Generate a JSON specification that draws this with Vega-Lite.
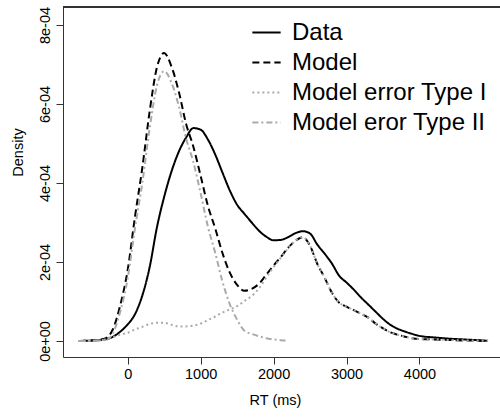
{
  "$schema": "https://vega.github.io/schema/vega-lite/v6.json",
  "autosize": {"type": "none"},
  "width": 437,
  "height": 350,
  "padding": {"left": 63, "top": 7, "right": 0, "bottom": 60},
  "background": "white",
  "config": {
    "view": {"stroke": null},
    "font": "Liberation Sans",
    "axis": {"grid": false, "domainColor": "#333", "tickColor": "#333", "tickSize": 7, "labelColor": "black", "titleColor": "black", "labelFont": "Liberation Sans", "titleFont": "Liberation Sans", "labelFontSize": 14.5, "titleFontSize": 14.5, "titleFontWeight": "normal"},
    "legend": {"labelFont": "Liberation Sans", "labelFontSize": 24, "labelColor": "black", "labelLimit": 0}
  },
  "data": {"values": [
    {"s":"Data","x":-670,"y":0},{"s":"Data","x":-500,"y":0.000001},{"s":"Data","x":-400,"y":0.000002},{"s":"Data","x":-300,"y":0.0000045},{"s":"Data","x":-200,"y":0.000011},{"s":"Data","x":-100,"y":0.000024},{"s":"Data","x":0,"y":0.000042},{"s":"Data","x":100,"y":0.000068},{"s":"Data","x":200,"y":0.000115},{"s":"Data","x":300,"y":0.000186},{"s":"Data","x":400,"y":0.000287},{"s":"Data","x":500,"y":0.000365},{"s":"Data","x":600,"y":0.000429},{"s":"Data","x":700,"y":0.000479},{"s":"Data","x":800,"y":0.000515},{"s":"Data","x":900,"y":0.000539},{"s":"Data","x":1000,"y":0.000535},{"s":"Data","x":1100,"y":0.00051},{"s":"Data","x":1200,"y":0.000472},{"s":"Data","x":1300,"y":0.000426},{"s":"Data","x":1400,"y":0.000381},{"s":"Data","x":1500,"y":0.000345},{"s":"Data","x":1600,"y":0.000322},{"s":"Data","x":1700,"y":0.0003},{"s":"Data","x":1800,"y":0.000279},{"s":"Data","x":1900,"y":0.000264},{"s":"Data","x":2000,"y":0.000255},{"s":"Data","x":2100,"y":0.000256},{"s":"Data","x":2200,"y":0.000263},{"s":"Data","x":2300,"y":0.000273},{"s":"Data","x":2400,"y":0.000278},{"s":"Data","x":2500,"y":0.000272},{"s":"Data","x":2600,"y":0.000244},{"s":"Data","x":2700,"y":0.000221},{"s":"Data","x":2800,"y":0.000196},{"s":"Data","x":2900,"y":0.000165},{"s":"Data","x":3000,"y":0.000148},{"s":"Data","x":3100,"y":0.00013},{"s":"Data","x":3200,"y":0.00011},{"s":"Data","x":3300,"y":0.000092},{"s":"Data","x":3400,"y":0.000074},{"s":"Data","x":3500,"y":0.000056},{"s":"Data","x":3600,"y":0.000041},{"s":"Data","x":3700,"y":0.000031},{"s":"Data","x":3800,"y":0.000024},{"s":"Data","x":3900,"y":0.000018},{"s":"Data","x":4000,"y":0.000013},{"s":"Data","x":4200,"y":0.000009},{"s":"Data","x":4400,"y":0.000006},{"s":"Data","x":4600,"y":0.000004},{"s":"Data","x":4800,"y":0.000002},{"s":"Data","x":4940,"y":0.0000005},
    {"s":"Model","x":-670,"y":0},{"s":"Model","x":-500,"y":0.000001},{"s":"Model","x":-400,"y":0.000003},{"s":"Model","x":-300,"y":0.000007},{"s":"Model","x":-200,"y":0.000031},{"s":"Model","x":-100,"y":0.000092},{"s":"Model","x":0,"y":0.00018},{"s":"Model","x":100,"y":0.000315},{"s":"Model","x":200,"y":0.000438},{"s":"Model","x":300,"y":0.00058},{"s":"Model","x":400,"y":0.000692},{"s":"Model","x":500,"y":0.000729},{"s":"Model","x":600,"y":0.000695},{"s":"Model","x":700,"y":0.000632},{"s":"Model","x":800,"y":0.00055},{"s":"Model","x":900,"y":0.000492},{"s":"Model","x":1000,"y":0.000418},{"s":"Model","x":1100,"y":0.000342},{"s":"Model","x":1200,"y":0.000285},{"s":"Model","x":1300,"y":0.000222},{"s":"Model","x":1400,"y":0.000173},{"s":"Model","x":1500,"y":0.000142},{"s":"Model","x":1600,"y":0.000127},{"s":"Model","x":1700,"y":0.000132},{"s":"Model","x":1800,"y":0.000145},{"s":"Model","x":1900,"y":0.000168},{"s":"Model","x":2000,"y":0.000191},{"s":"Model","x":2100,"y":0.000213},{"s":"Model","x":2200,"y":0.000236},{"s":"Model","x":2300,"y":0.000254},{"s":"Model","x":2400,"y":0.000263},{"s":"Model","x":2500,"y":0.000241},{"s":"Model","x":2600,"y":0.000195},{"s":"Model","x":2700,"y":0.00016},{"s":"Model","x":2800,"y":0.000122},{"s":"Model","x":2900,"y":0.000097},{"s":"Model","x":3000,"y":0.000087},{"s":"Model","x":3100,"y":0.000078},{"s":"Model","x":3200,"y":0.000069},{"s":"Model","x":3300,"y":0.000059},{"s":"Model","x":3400,"y":0.000044},{"s":"Model","x":3500,"y":0.000032},{"s":"Model","x":3600,"y":0.000022},{"s":"Model","x":3700,"y":0.000016},{"s":"Model","x":3800,"y":0.000011},{"s":"Model","x":3900,"y":0.000007},{"s":"Model","x":4000,"y":0.000005},{"s":"Model","x":4200,"y":0.000004},{"s":"Model","x":4400,"y":0.0000025},{"s":"Model","x":4600,"y":0.0000015},{"s":"Model","x":4800,"y":0.0000008},{"s":"Model","x":4940,"y":0},
    {"s":"Model error Type I","x":-670,"y":0},{"s":"Model error Type I","x":-500,"y":0.0000005},{"s":"Model error Type I","x":-400,"y":0.000001},{"s":"Model error Type I","x":-300,"y":0.0000045},{"s":"Model error Type I","x":-200,"y":0.00001},{"s":"Model error Type I","x":-100,"y":0.000016},{"s":"Model error Type I","x":0,"y":0.000021},{"s":"Model error Type I","x":100,"y":0.000029},{"s":"Model error Type I","x":200,"y":0.000036},{"s":"Model error Type I","x":300,"y":0.000043},{"s":"Model error Type I","x":400,"y":0.000046},{"s":"Model error Type I","x":500,"y":0.000046},{"s":"Model error Type I","x":600,"y":0.000041},{"s":"Model error Type I","x":700,"y":0.000037},{"s":"Model error Type I","x":800,"y":0.000037},{"s":"Model error Type I","x":900,"y":0.000039},{"s":"Model error Type I","x":1000,"y":0.000044},{"s":"Model error Type I","x":1100,"y":0.000053},{"s":"Model error Type I","x":1200,"y":0.000062},{"s":"Model error Type I","x":1300,"y":0.000072},{"s":"Model error Type I","x":1400,"y":0.00008},{"s":"Model error Type I","x":1500,"y":0.000088},{"s":"Model error Type I","x":1600,"y":0.000101},{"s":"Model error Type I","x":1700,"y":0.000114},{"s":"Model error Type I","x":1800,"y":0.000133},{"s":"Model error Type I","x":1900,"y":0.000161},{"s":"Model error Type I","x":2000,"y":0.000187},{"s":"Model error Type I","x":2100,"y":0.000211},{"s":"Model error Type I","x":2200,"y":0.000235},{"s":"Model error Type I","x":2300,"y":0.000254},{"s":"Model error Type I","x":2400,"y":0.000263},{"s":"Model error Type I","x":2500,"y":0.000241},{"s":"Model error Type I","x":2600,"y":0.000195},{"s":"Model error Type I","x":2700,"y":0.00016},{"s":"Model error Type I","x":2800,"y":0.000122},{"s":"Model error Type I","x":2900,"y":0.000097},{"s":"Model error Type I","x":3000,"y":0.000087},{"s":"Model error Type I","x":3100,"y":0.000078},{"s":"Model error Type I","x":3200,"y":0.000069},{"s":"Model error Type I","x":3300,"y":0.000059},{"s":"Model error Type I","x":3400,"y":0.000044},{"s":"Model error Type I","x":3500,"y":0.000032},{"s":"Model error Type I","x":3600,"y":0.000022},{"s":"Model error Type I","x":3700,"y":0.000016},{"s":"Model error Type I","x":3800,"y":0.000011},{"s":"Model error Type I","x":3900,"y":0.000007},{"s":"Model error Type I","x":4000,"y":0.000005},{"s":"Model error Type I","x":4200,"y":0.000004},{"s":"Model error Type I","x":4400,"y":0.0000025},{"s":"Model error Type I","x":4600,"y":0.0000015},{"s":"Model error Type I","x":4800,"y":0.0000008},{"s":"Model error Type I","x":4940,"y":0},
    {"s":"Model eror Type II","x":-670,"y":0},{"s":"Model eror Type II","x":-500,"y":0.0000005},{"s":"Model eror Type II","x":-400,"y":0.000002},{"s":"Model eror Type II","x":-300,"y":0.0000025},{"s":"Model eror Type II","x":-200,"y":0.000021},{"s":"Model eror Type II","x":-100,"y":0.000076},{"s":"Model eror Type II","x":0,"y":0.000159},{"s":"Model eror Type II","x":100,"y":0.000286},{"s":"Model eror Type II","x":200,"y":0.0004},{"s":"Model eror Type II","x":300,"y":0.000537},{"s":"Model eror Type II","x":400,"y":0.000646},{"s":"Model eror Type II","x":500,"y":0.000683},{"s":"Model eror Type II","x":600,"y":0.000654},{"s":"Model eror Type II","x":700,"y":0.000595},{"s":"Model eror Type II","x":800,"y":0.000513},{"s":"Model eror Type II","x":900,"y":0.000453},{"s":"Model eror Type II","x":1000,"y":0.000374},{"s":"Model eror Type II","x":1100,"y":0.000289},{"s":"Model eror Type II","x":1200,"y":0.000223},{"s":"Model eror Type II","x":1300,"y":0.00015},{"s":"Model eror Type II","x":1400,"y":0.000093},{"s":"Model eror Type II","x":1500,"y":0.000054},{"s":"Model eror Type II","x":1600,"y":0.000026},{"s":"Model eror Type II","x":1700,"y":0.000018},{"s":"Model eror Type II","x":1800,"y":0.000012},{"s":"Model eror Type II","x":1900,"y":0.000007},{"s":"Model eror Type II","x":2000,"y":0.000004},{"s":"Model eror Type II","x":2100,"y":0.000002},{"s":"Model eror Type II","x":2200,"y":0.000001}
  ]},
  "layer": [
    {
      "mark": {"type": "line", "strokeWidth": 2, "interpolate": "monotone"},
      "encoding": {
        "x": {"field": "x", "type": "quantitative", "scale": {"domain": [-887, 5104], "nice": false, "zero": false},
          "axis": {"values": [0, 1000, 2000, 3000, 4000], "format": "d", "title": "RT (ms)", "labelPadding": 3, "titleX": 212, "titleY": 43, "titleBaseline": "middle", "titleAnchor": null}},
        "y": {"field": "y", "type": "quantitative", "scale": {"domain": [-0.0000405, 0.0008456], "nice": false, "zero": false},
          "axis": {"values": [0, 0.0002, 0.0004, 0.0006, 0.0008], "title": "Density", "labelAngle": -90, "labelAlign": "center", "labelBaseline": "alphabetic", "labelPadding": 7,
            "labelExpr": "datum.value == 0 ? '0e+00' : format(datum.value * 10000, '.0f') + 'e-04'",
            "titleX": -45, "titleY": 145, "titleBaseline": "middle", "titleAlign": "center", "titleAngle": -90}},
        "color": {"field": "s", "type": "nominal", "scale": {"domain": ["Data", "Model", "Model error Type I", "Model eror Type II"], "range": ["#000000", "#000000", "#aaaaaa", "#aaaaaa"]},
          "legend": {"title": null, "orient": "none", "legendX": 188, "legendY": 10, "symbolType": "stroke", "symbolSize": 800, "symbolStrokeWidth": 2, "labelOffset": 10, "rowPadding": 2, "labelLimit": 0}},
        "strokeDash": {"field": "s", "type": "nominal", "scale": {"domain": ["Data", "Model", "Model error Type I", "Model eror Type II"], "range": [[1, 0], [7, 4], [2, 3], [6, 3, 2, 3]]},
          "legend": {"title": null, "orient": "none", "legendX": 188, "legendY": 10, "symbolType": "stroke", "symbolSize": 800, "symbolStrokeWidth": 2, "labelOffset": 10, "rowPadding": 2, "labelLimit": 0}}
      }
    },
    {
      "mark": {"type": "rule", "color": "#333", "strokeWidth": 1},
      "encoding": {"y": {"datum": 0.0008456}}
    }
  ]
}
